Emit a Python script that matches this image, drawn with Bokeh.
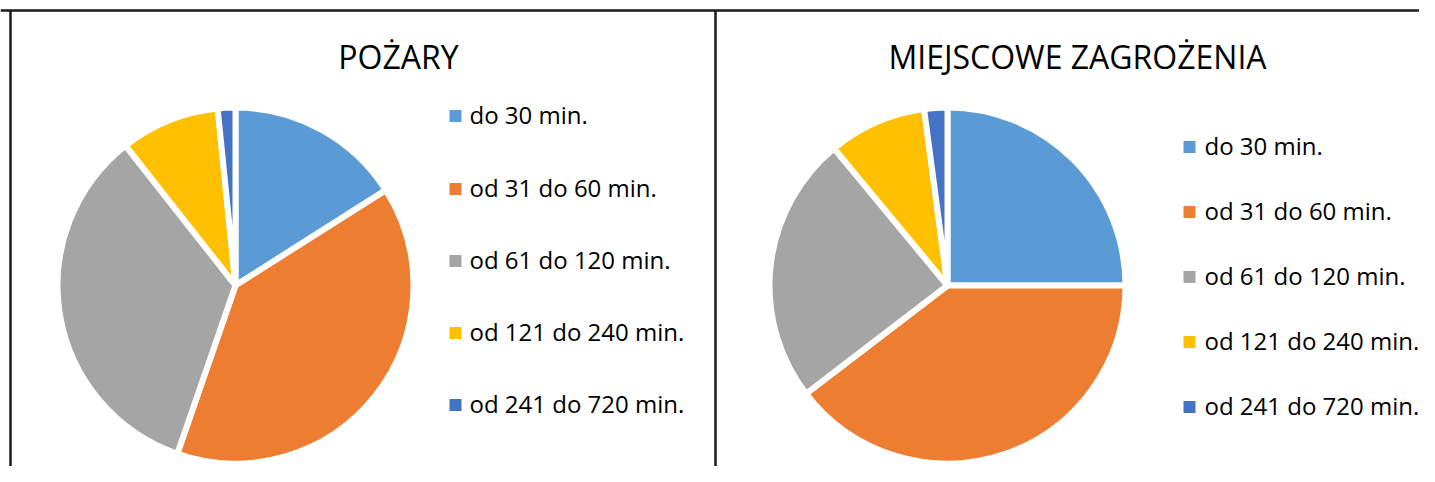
import math
from bokeh.plotting import figure
from bokeh.models import ColumnDataSource, Range1d
from bokeh.core.properties import value
from bokeh.embed import file_html
from bokeh.resources import INLINE

# ---- data ----
categories = ["do 30 min.", "od 31 do 60 min.", "od 61 do 120 min.",
              "od 121 do 240 min.", "od 241 do 720 min."]
colors = ["#5B9BD5", "#ED7D31", "#A5A5A5", "#FFC000", "#4472C4"]
pozary = [16.0, 39.3, 34.1, 9.0, 1.6]
miejscowe = [25.0, 39.6, 24.4, 8.9, 2.1]
titles = ["POŻARY", "MIEJSCOWE ZAGROŻENIA"]

W, H = 1419, 466
FONT = "Open Sans"
OFF = 0
TXT_SHIFT = 12   # text renders lower than requested baseline


def fx(X):
    return X - OFF


def fy(Y):
    return H - (Y - OFF)


p = figure(width=W, height=H, output_backend="svg", toolbar_location=None,
           x_range=Range1d(0, W), y_range=Range1d(0, H), min_border=0)
p.axis.visible = False
p.grid.visible = False
p.outline_line_color = None
p.background_fill_color = "white"
p.border_fill_color = "white"

# frame lines
p.segment(x0=[0, fx(10), fx(715)], y0=[fy(10), fy(10), fy(10)],
          x1=[W, fx(10), fx(715)], y1=[fy(10), 0, 0],
          line_color="#1a1a1a", line_width=2.5)


def pie(vals, cx, cy, r):
    total = sum(vals)
    starts, ends = [], []
    acc = 0.0
    for v in vals:
        a0 = acc / total * 2 * math.pi
        acc += v
        a1 = acc / total * 2 * math.pi
        # clockwise from 12 o'clock -> math angles
        starts.append(math.pi / 2 - a1)
        ends.append(math.pi / 2 - a0)
    src = ColumnDataSource(dict(x=[fx(cx)] * len(vals), y=[fy(cy)] * len(vals),
                                s=starts, e=ends, c=colors))
    p.wedge(x="x", y="y", radius=r, start_angle="s", end_angle="e",
            fill_color="c", line_color="white", line_width=6, source=src)


pie(pozary, 235, 285, 178)
pie(miejscowe, 947, 285, 178)

# titles
p.text(x=[fx(398), fx(1077)], y=[fy(68 - TXT_SHIFT)] * 2, text=titles,
       text_font=value(FONT), text_font_size="32px", text_color="#000000",
       text_align="center", text_baseline="alphabetic")


def legend(sq_x, tx, baselines):
    p.scatter(x=[fx(sq_x)] * 5, y=[fy(b - 10.5) for b in baselines],
              marker="square", size=12, fill_color=colors, line_color=None)
    p.text(x=[fx(tx)] * 5, y=[fy(b - TXT_SHIFT) for b in baselines],
           text=categories, text_font=value(FONT),
           text_font_size="24px", text_color="#000000",
           text_align="left", text_baseline="alphabetic")


legend(455, 469, [126, 199, 271, 343, 415])
legend(1189, 1204, [157, 222, 287, 352, 417])

open("out.html", "w").write(file_html(p, INLINE))
